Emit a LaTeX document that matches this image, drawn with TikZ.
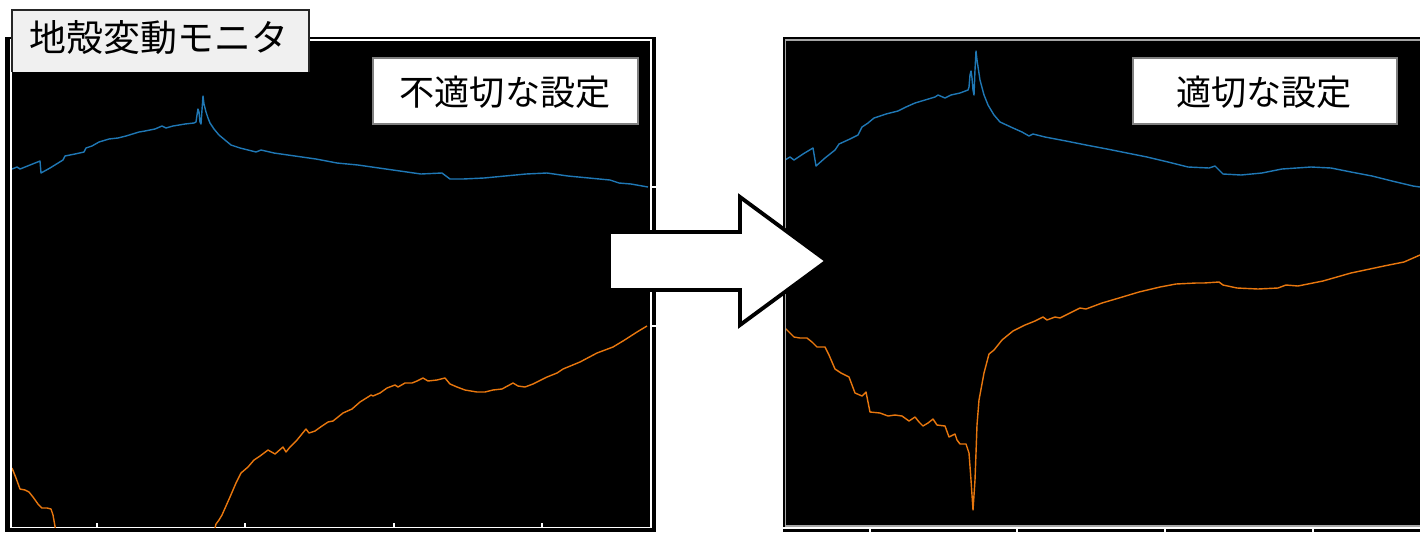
\documentclass[tikz,border=0pt]{standalone}
\usepackage{fontspec}
\newfontfamily\jpfont{Noto Sans CJK JP}
\definecolor{tabblue}{HTML}{1F77B4}
\definecolor{taborange}{HTML}{E8770E}
\definecolor{titlegray}{HTML}{F0F0F0}
\tikzset{
  plotline/.style={line width=0.8pt, line join=round},
  axisframe/.style={draw=white, line width=1pt},
  settingbox/.style={fill=white, draw=gray, line width=0.6pt},
  settingtext/.style={font=\jpfont\fontsize{20}{24}\selectfont, inner sep=0pt}
}
\begin{document}
\begin{tikzpicture}[x=0.02cm,y=-0.02cm]
	\fill[white] (0,0) rectangle (1420,532);
	\useasboundingbox (0,0) rectangle (1420,532);
	% left panel
	\fill[black] (5,37) rectangle (656,532);
	\draw[axisframe] (11,40) rectangle (651,527.5);
	\foreach \x in {97,245,394,542}
		\draw[white,line width=0.8pt] (\x,527.5)--(\x,523);
	\draw[white,line width=0.6pt] (651,187)--(656,187);
	\draw[white,line width=0.6pt] (651,326)--(656,326);
	% right panel
	\fill[black] (783,37) rectangle (1420,527);
	\draw[draw=gray!70,line width=1pt] (785.5,40) rectangle (1425,526);
	\fill[black] (783,529) rectangle (1420,532);
	\foreach \x in {870,1017,1165,1313}
		\draw[white,line width=0.8pt] (\x,529)--(\x,532);
	% curves
	\begin{scope}
		\clip (12,41) rectangle (650,527);
		\draw[plotline,tabblue] plot coordinates {(12,169) (17,167) (20,169) (30,165) (40,161) (41,173) (50,168) (63,160) (65,156) (75,154) (84,152) (86,148) (92,146) (99,142) (109,139) (118,138) (126,136) (139,132) (145,131) (155,129) (162,126) (166,128) (173,126) (185,124) (194,123) (196,122) (197,115) (198,109) (199,112) (200,122) (201,124) (202,110) (203,96) (204,104) (206,112) (208,118) (210,123) (214,129) (219,135) (225,140) (231,145) (240,148) (252,151) (256,152) (261,150) (274,153) (295,156) (316,159) (337,163) (358,165) (379,168) (400,171) (421,174) (442,173) (446,176) (450,179) (463,179) (484,178) (505,176) (526,174) (547,173) (568,176) (589,178) (610,180) (619,183) (631,184) (648,187)};
		\draw[plotline,taborange] plot coordinates {(12,468) (16,478) (20,489) (25,490) (29,492) (33,497) (38,504) (42,508) (47,508) (51,509) (53,515) (56,532) (58,545)};
		\draw[plotline,taborange] plot coordinates {(213,545) (214,532) (216,524) (219,520) (222,515) (230,497) (236,483) (241,473) (248,467) (254,460) (260,456) (268,450) (275,454) (283,447) (286,452) (290,447) (297,440) (306,429) (309,433) (315,431) (322,426) (328,422) (333,421) (343,413) (352,409) (360,402) (368,397) (371,395) (373,396) (380,393) (387,388) (395,385) (398,387) (405,383) (412,383) (417,381) (423,378) (428,381) (437,380) (445,378) (450,384) (457,387) (465,390) (477,392) (485,392) (493,390) (502,389) (513,383) (518,386) (525,387) (533,384) (547,377) (557,373) (563,369) (580,362) (597,353) (613,347) (623,341) (637,332) (647,326)};
	\end{scope}
	\begin{scope}
		\clip (786,41) rectangle (1420,525);
		\draw[plotline,tabblue] plot coordinates {(785,160) (790,157) (794,160) (803,154) (813,148) (816,166) (825,158) (835,150) (839,144) (850,139) (858,135) (862,127) (868,123) (874,118) (886,114) (898,111) (906,107) (915,103) (925,100) (935,97) (938,95) (945,98) (951,95) (960,93) (968,90) (969,87) (970,75) (971,71) (972,78) (973,90) (974,95) (975,70) (976,51) (977,60) (980,80) (984,95) (988,105) (994,115) (1000,122) (1013,128) (1022,132) (1029,136) (1033,134) (1045,137) (1066,141) (1086,145) (1107,149) (1127,153) (1147,157) (1168,162) (1188,167) (1209,168) (1215,166) (1219,170) (1223,174) (1241,175) (1262,173) (1282,169) (1311,167) (1331,168) (1351,172) (1372,176) (1392,181) (1413,186) (1420,187)};
		\draw[plotline,taborange] plot coordinates {(785,328) (790,333) (794,337) (800,338) (807,338) (812,342) (817,347) (825,347) (829,355) (835,369) (841,373) (849,377) (852,385) (855,393) (862,396) (866,392) (868,402) (870,412) (880,413) (888,416) (895,415) (902,416) (909,421) (915,417) (919,422) (923,426) (928,423) (933,419) (937,425) (945,426) (949,437) (955,434) (957,440) (960,444) (966,444) (969,453) (971,480) (973,510) (975,480) (976,453) (977,425) (979,400) (984,373) (989,354) (994,350) (1002,340) (1013,331) (1025,325) (1035,321) (1043,317) (1047,320) (1055,317) (1060,318) (1066,315) (1080,308) (1086,309) (1102,303) (1119,298) (1139,292) (1160,287) (1176,284) (1196,283) (1204,283) (1219,282) (1223,285) (1237,288) (1258,289) (1278,288) (1286,285) (1298,286) (1323,281) (1351,273) (1384,266) (1404,262) (1420,255)};
	\end{scope}
	% setting labels
	\draw[settingbox] (373,58) rectangle (638,124);
	\node[settingtext] (badlabel) at (505,92) {不適切な設定};
	\draw[settingbox] (1133,58) rectangle (1397,124);
	\node[settingtext] (goodlabel) at (1264,92) {適切な設定};
	% arrow
	\draw[fill=white,line width=2.2pt,line join=miter] (609,232)--(740,232)--(740,197)--(827,261)--(740,325)--(740,290)--(609,290)--cycle;
	% title
	\draw[fill=titlegray,draw=black!85,line width=1.4pt] (12,72)--(12,10)--(309,10)--(309,72);
	\node[font=\jpfont\fontsize{21}{25}\selectfont, inner sep=0pt] (title) at (159,38) {地殻変動モニタ};
\end{tikzpicture}
\end{document}
